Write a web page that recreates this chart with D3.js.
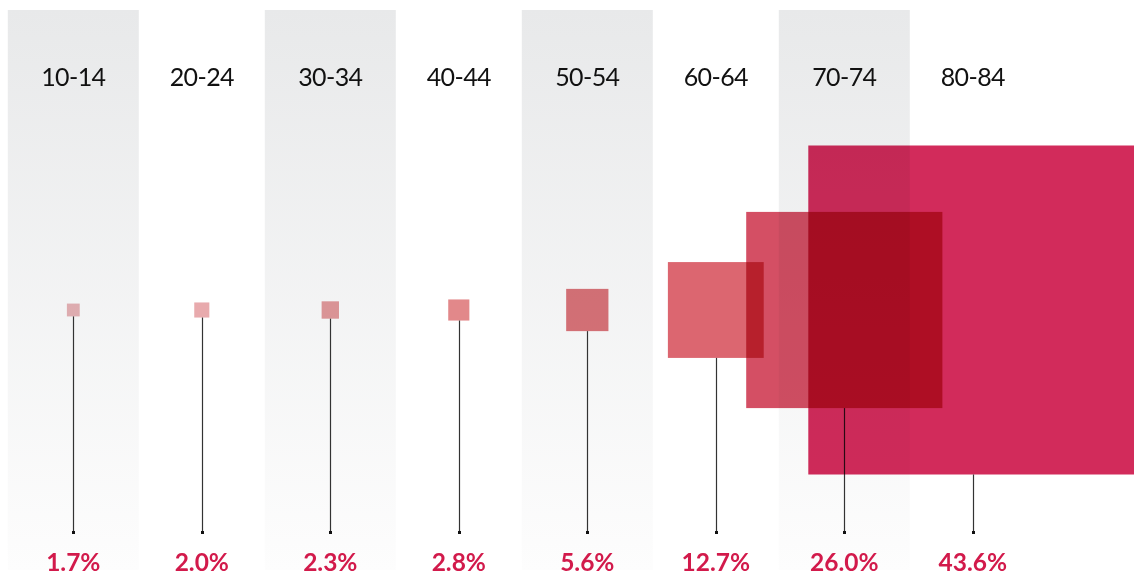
<!DOCTYPE html>
<meta charset="utf-8">
<head>
<title>Share by age group</title>
<style>
body { margin: 0; background: #fff; }
svg { display: block; }
.age { font-family: Lato, sans-serif; font-size: 25px; fill: #111; letter-spacing: -0.6px; }
.pct { font-family: Lato, sans-serif; font-weight: 700; font-size: 24.5px; fill: #d21a4b; }
.sq { mix-blend-mode: multiply; }
</style>
</head>
<body>
<div id="chart"></div>
<script src="https://cdn.jsdelivr.net/npm/d3@7"></script>
<script>
// age groups and their share (%)
var ages = ["10-14", "20-24", "30-34", "40-44", "50-54", "60-64", "70-74", "80-84"];
var shares = [1.7, 2.0, 2.3, 2.8, 5.6, 12.7, 26.0, 43.6];

// light pink -> crimson
var palette = ["#e8b4b7", "#e8aaad", "#e49a9c", "#e2888a", "#dc747a", "#dc6670", "#d44f64", "#d22b5b"];

var width = 1134,
    height = 576;

var svg = d3.select("#chart").append("svg")
    .attr("width", width)
    .attr("height", height);

var x = d3.scalePoint()
    .domain(ages)
    .range([73.3, 972.8]);

// square side is linear in the value
var side = d3.scaleLinear()
    .domain([0, d3.max(shares)])
    .range([0, 329]);

var color = d3.scaleOrdinal()
    .domain(ages)
    .range(palette);

var midY = 310,
    stemEnd = 532,
    bandW = 131;

var grad = svg.append("defs").append("linearGradient")
    .attr("id", "band")
    .attr("x1", 0).attr("y1", 0)
    .attr("x2", 0).attr("y2", 1);
grad.append("stop").attr("offset", "0%").attr("stop-color", "#e8e9ea");
grad.append("stop").attr("offset", "100%").attr("stop-color", "#fdfdfd");

// grey bands behind every other column
svg.append("g")
  .selectAll("rect")
  .data(ages.filter(function(d, i) { return i % 2 == 0; }))
  .enter().append("rect")
    .attr("x", function(d) { return x(d) - bandW / 2; })
    .attr("y", 10)
    .attr("width", bandW)
    .attr("height", 560)
    .attr("fill", "url(#band)");

svg.append("g")
  .selectAll("text")
  .data(ages)
  .enter().append("text")
    .attr("class", "age")
    .attr("x", function(d) { return x(d); })
    .attr("y", 86)
    .attr("text-anchor", "middle")
    .text(function(d) { return d; });

var cols = ages.map(function(d, i) { return {age: d, v: shares[i]}; });

// stems with a small dot at the foot
var stems = svg.append("g");
stems.selectAll("line")
  .data(cols)
  .enter().append("line")
    .attr("x1", function(d) { return Math.round(x(d.age)) + 0.5; })
    .attr("x2", function(d) { return Math.round(x(d.age)) + 0.5; })
    .attr("y1", function(d) { return midY + side(d.v) / 2; })
    .attr("y2", stemEnd)
    .attr("stroke", "#333")
    .attr("stroke-width", 1.2);
stems.selectAll("rect")
  .data(cols)
  .enter().append("rect")
    .attr("x", function(d) { return Math.round(x(d.age)) - 1; })
    .attr("y", stemEnd - 1)
    .attr("width", 3)
    .attr("height", 3)
    .attr("fill", "#111");

svg.append("g")
  .selectAll("rect")
  .data(cols)
  .enter().append("rect")
    .attr("class", "sq")
    .attr("x", function(d) { return x(d.age) - side(d.v) / 2; })
    .attr("y", function(d) { return midY - side(d.v) / 2; })
    .attr("width", function(d) { return side(d.v); })
    .attr("height", function(d) { return side(d.v); })
    .attr("fill", function(d) { return color(d.age); });

svg.append("g")
  .selectAll("text")
  .data(cols)
  .enter().append("text")
    .attr("class", "pct")
    .attr("x", function(d) { return x(d.age); })
    .attr("y", 571)
    .attr("text-anchor", "middle")
    .text(function(d) { return d.v.toFixed(1) + "%"; });
</script>
</body>
